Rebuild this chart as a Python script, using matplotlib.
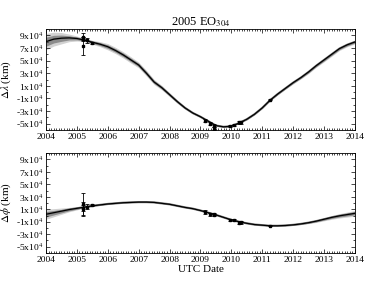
import numpy as np
import matplotlib
matplotlib.use("Agg")
import matplotlib.pyplot as plt
from matplotlib.ticker import MultipleLocator

plt.rcParams['font.family'] = ['Liberation Serif', 'DejaVu Serif']
plt.rcParams['mathtext.fontset'] = 'stix'

# orbit prediction (decimal year, quarter steps) and offsets in km
dates = [2004.0 + 0.25 * i for i in range(41)]
dlam = [8.0e4, 8.4e4, 8.55e4, 8.6e4, 8.5e4, 8.25e4, 7.9e4, 7.6e4, 7.2e4,
        6.6e4, 5.9e4, 5.1e4, 4.3e4, 3.0e4, 1.6e4, 0.7e4, -0.4e4, -1.5e4,
        -2.5e4, -3.3e4, -3.9e4, -4.6e4, -5.3e4, -5.5e4, -5.4e4, -4.9e4,
        -4.3e4, -3.5e4, -2.5e4, -1.3e4, -0.3e4, 0.6e4, 1.5e4, 2.3e4, 3.2e4,
        4.2e4, 5.1e4, 6.0e4, 6.9e4, 7.5e4, 7.95e4]
dphi = [0.2e4, 0.45e4, 0.7e4, 0.95e4, 1.15e4, 1.35e4, 1.55e4, 1.7e4, 1.85e4,
        1.95e4, 2.05e4, 2.1e4, 2.15e4, 2.15e4, 2.1e4, 1.95e4, 1.8e4, 1.55e4,
        1.3e4, 1.1e4, 0.8e4, 0.45e4, 0.1e4, -0.3e4, -0.7e4, -1.0e4, -1.25e4,
        -1.45e4, -1.55e4, -1.65e4, -1.65e4, -1.6e4, -1.5e4, -1.35e4, -1.15e4,
        -0.9e4, -0.6e4, -0.3e4, -0.05e4, 0.15e4, 0.35e4]
# uncertainty half-widths (outer band)
sig_lam = [1.3e4, 1.1e4, 0.9e4, 0.6e4, 0.4e4, 0.25e4, 0.3e4, 0.4e4, 0.5e4,
           0.5e4, 0.5e4, 0.5e4, 0.45e4, 0.45e4, 0.4e4, 0.35e4, 0.3e4, 0.25e4,
           0.2e4, 0.15e4, 0.1e4, 0.08e4, 0.08e4, 0.08e4, 0.08e4, 0.1e4, 0.1e4,
           0.1e4, 0.1e4, 0.1e4, 0.15e4, 0.15e4, 0.2e4, 0.2e4, 0.25e4, 0.25e4,
           0.3e4, 0.3e4, 0.3e4, 0.3e4, 0.3e4]
sig_phi = [0.8e4, 0.65e4, 0.5e4, 0.35e4, 0.25e4, 0.12e4, 0.1e4, 0.07e4, 0.05e4,
           0.04e4, 0.03e4, 0.03e4, 0.02e4, 0.02e4, 0.02e4, 0.02e4, 0.02e4,
           0.02e4, 0.02e4, 0.02e4, 0.02e4, 0.02e4, 0.02e4, 0.02e4, 0.02e4,
           0.02e4, 0.02e4, 0.02e4, 0.02e4, 0.02e4, 0.03e4, 0.05e4, 0.08e4,
           0.1e4, 0.15e4, 0.2e4, 0.25e4, 0.3e4, 0.35e4, 0.4e4, 0.45e4]

# observations
obs_t = [2005.2, 2005.2, 2005.2, 2005.33, 2005.48, 2009.15, 2009.3, 2009.45,
         2009.45, 2009.97, 2010.1, 2010.26, 2010.3, 2011.25]
obs_lam = [8.8e4, 8.4e4, 7.3e4, 8.2e4, 7.8e4, -4.5e4, -5.0e4, -5.3e4,
           -5.8e4, -5.4e4, -5.2e4, -4.8e4, -4.8e4, -1.2e4]
obs_lam_err = [0.5e4, 0.3e4, 1.4e4, 0.4e4, 0.2e4, 0.2e4, 0.2e4, 0.2e4,
               0.2e4, 0.2e4, 0.2e4, 0.2e4, 0.2e4, 0.1e4]
obs_phi = [1.85e4, 1.15e4, 1.0e4, 1.4e4, 1.7e4, 0.6e4, 0.2e4, 0.1e4,
           0.25e4, -0.75e4, -0.7e4, -1.15e4, -1.1e4, -1.65e4]
obs_phi_err = [1.7e4, 0.5e4, 1.1e4, 0.4e4, 0.2e4, 0.3e4, 0.2e4, 0.2e4,
               0.2e4, 0.2e4, 0.2e4, 0.2e4, 0.2e4, 0.1e4]

years = list(range(2004, 2015))
yticks = [-5e4, -3e4, -1e4, 1e4, 3e4, 5e4, 7e4, 9e4]
ylabels = ['%dx10$^4$' % (v / 1e4) for v in yticks]

fig = plt.figure(figsize=(3.74, 2.82), dpi=100)
ax1 = fig.add_axes([0.123, 0.539, 0.826, 0.358])
ax2 = fig.add_axes([0.123, 0.103, 0.826, 0.354])

t = np.array(dates)
for ax, y, s, oy, oe, lab in [(ax1, dlam, sig_lam, obs_lam, obs_lam_err, r'$\Delta\lambda$ (km)'),
                              (ax2, dphi, sig_phi, obs_phi, obs_phi_err, r'$\Delta\phi$ (km)')]:
    y = np.array(y)
    s = np.array(s)
    ax.fill_between(t, y - s, y + s, color='#d2d2d2', lw=0)
    ax.fill_between(t, y - 0.55 * s, y + 0.55 * s, color='#8c8c8c', lw=0)
    ax.plot(t, y, color='#808080', lw=1.6)
    ax.plot(t, y, color='black', lw=0.9)
    ax.errorbar(obs_t, oy, yerr=oe, fmt='s', ms=2, color='black',
                ecolor='black', elinewidth=0.6, capsize=1.2, capthick=0.6)
    ax.set_xlim(2004, 2014)
    ax.set_ylim(-6e4, 1e5)
    ax.set_xticks(years)
    ax.set_xticklabels([str(yr) for yr in years])
    ax.set_yticks(yticks)
    ax.set_yticklabels(ylabels)
    ax.xaxis.set_minor_locator(MultipleLocator(1 / 12))
    ax.yaxis.set_minor_locator(MultipleLocator(1e4))
    ax.tick_params(which='both', direction='in', top=True, right=True,
                   labelsize=6.8, width=0.5, pad=2)
    ax.tick_params(which='major', length=3)
    ax.tick_params(which='minor', length=1.5)
    for sp in ax.spines.values():
        sp.set_linewidth(0.6)
    ax.set_ylabel(lab, fontsize=8)
    ax.yaxis.set_label_coords(-0.108, 0.5)

ax1.set_title('2005 EO$_{304}$', fontsize=9, pad=2)
ax2.set_xlabel('UTC Date', fontsize=8, labelpad=1)

fig.savefig('out.png', dpi=100)
